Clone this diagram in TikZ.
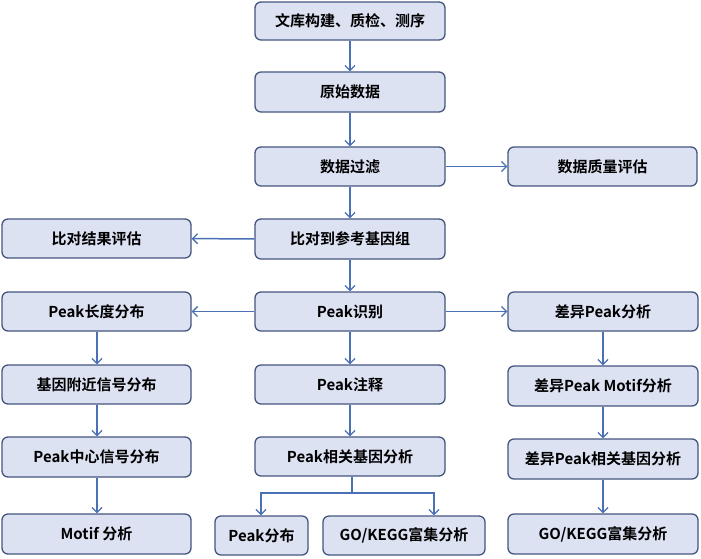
\documentclass[tikz,border=0pt]{standalone}
\usepackage{fontspec}
\setmainfont{Noto Sans CJK SC}[BoldFont={* Bold}]
\usetikzlibrary{arrows.meta}
\definecolor{boxfill}{HTML}{DDE2F3}
\definecolor{boxdraw}{HTML}{44557F}
\definecolor{arr}{HTML}{4A70B5}
\tikzset{
  bx/.style={draw=boxdraw, line width=1.3pt, fill=boxfill, rounded corners=6pt, font=\fontsize{15}{18}\selectfont\bfseries, text=black, inner sep=0pt},
  ar/.style={draw=arr, line width=1.5pt, -{Straight Barb[length=5pt,width=10pt,line width=1.3pt]}},
}
\newcommand{\bxat}[6]{\node[bx, minimum width=#4pt-#2pt, minimum height=#5pt-#3pt] (#1) at ({(#2+#4)/2*1pt}, {-(#3+#5)/2*1pt}) {#6};}
\begin{document}
\begin{tikzpicture}[x=1pt,y=-1pt]
\useasboundingbox (0,0) rectangle (701,558);
\bxat{a}{255}{2}{445}{40}{文库构建、质检、测序}
\bxat{b}{255}{72}{445}{112}{原始数据}
\bxat{c}{255}{147}{445}{186}{数据过滤}
\bxat{cq}{508}{147}{697}{186}{数据质量评估}
\bxat{d}{255}{219}{445}{259}{比对到参考基因组}
\bxat{dq}{2}{219}{191}{258}{比对结果评估}
\bxat{e}{255}{292}{445}{331}{Peak识别}
\bxat{l1}{2}{292}{191}{331}{Peak长度分布}
\bxat{r1}{508}{292}{698}{331}{差异Peak分析}
\bxat{f}{255}{365}{445}{404}{Peak注释}
\bxat{l2}{2}{365}{191}{404}{基因附近信号分布}
\bxat{r2}{508}{366}{698}{406}{差异Peak Motif分析}
\bxat{g}{255}{437}{445}{476}{Peak相关基因分析}
\bxat{l3}{2}{437}{191}{477}{Peak中心信号分布}
\bxat{r3}{508}{439}{698}{479}{差异Peak相关基因分析}
\bxat{l4}{2}{514}{191}{554}{Motif 分析}
\bxat{g1}{215}{516}{308}{555}{Peak分布}
\bxat{g2}{323}{516}{485}{555}{GO/KEGG富集分析}
\bxat{r4}{508}{514}{698}{554}{GO/KEGG富集分析}
\draw[ar] (a) -- (b);
\draw[ar] (b) -- (c);
\draw[ar] (c) -- (d);
\draw[ar] (c) -- (cq);
\draw[ar] (d) -- (dq);
\draw[ar] (d) -- (e);
\draw[ar] (e) -- (l1);
\draw[ar] (e) -- (r1);
\draw[ar] (e) -- (f);
\draw[ar] (f) -- (g);
\draw[ar] (l1.south -| 97,0) -- (l2.north -| 97,0);
\draw[ar] (l2.south -| 97,0) -- (l3.north -| 97,0);
\draw[ar] (l3.south -| 97,0) -- (l4.north -| 97,0);
\draw[ar] (r1.south -| 603,0) -- (r2.north -| 603,0);
\draw[ar] (r2.south -| 603,0) -- (r3.north -| 603,0);
\draw[ar] (r3.south -| 603,0) -- (r4.north -| 603,0);
\coordinate (br) at (352,493);
\draw[draw=arr, line width=1.5pt] (g.south -| br) -- (br);
\draw[ar] (br) -| (g1.north -| 261,0);
\draw[ar] (br) -| (g2.north -| 434,0);
\end{tikzpicture}
\end{document}
